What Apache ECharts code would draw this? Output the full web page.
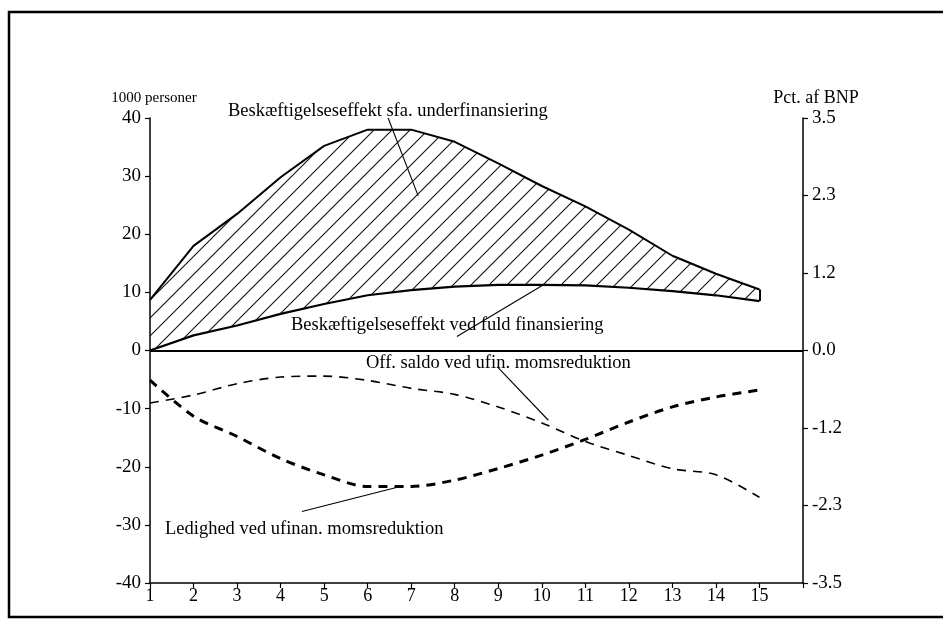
<!DOCTYPE html>
<html>
<head>
<meta charset="utf-8">
<script src="https://cdn.jsdelivr.net/npm/echarts@6/dist/echarts.min.js"></script>
<style>html,body{margin:0;padding:0;background:#fff}#c{width:943px;height:619px}</style>
</head>
<body>
<div id="c"></div>
<script>
// ---- data ----
const years = ['1','2','3','4','5','6','7','8','9','10','11','12','13','14','15'];
const xTickLabels = years.concat(['']); // axis runs one step past 15 to the right axis
// Beskæftigelseseffekt sfa. underfinansiering (1000 personer, top of hatched area)
const underfin = [8.7, 18.0, 23.5, 29.8, 35.2, 38.0, 38.0, 35.9, 32.2, 28.3, 24.8, 20.8, 16.3, 13.2, 10.5];
// Beskæftigelseseffekt ved fuld finansiering (1000 personer)
const fuldFin = [0.0, 2.6, 4.3, 6.3, 8.0, 9.5, 10.4, 11.0, 11.3, 11.3, 11.2, 10.8, 10.2, 9.5, 8.5];
// Ledighed ved ufinan. momsreduktion (1000 personer)
const ledighed = [-5.1, -11.3, -14.8, -18.6, -21.4, -23.4, -23.4, -22.3, -20.3, -18.0, -15.3, -12.3, -9.7, -8.0, -6.8];
// Off. saldo ved ufin. momsreduktion (Pct. af BNP)
const offSaldo = [-0.79, -0.67, -0.50, -0.40, -0.385, -0.45, -0.57, -0.66, -0.85, -1.09, -1.37, -1.58, -1.78, -1.87, -2.21];

const FONT = '"Liberation Serif", "DejaVu Serif", serif';

// hatch pattern
const pc = document.createElement('canvas');
pc.width = 18; pc.height = 18;
const g = pc.getContext('2d');
g.strokeStyle = '#111'; g.lineWidth = 1.1;
g.beginPath();
g.moveTo(-2, 20); g.lineTo(20, -2);
g.moveTo(-2, 2); g.lineTo(2, -2);
g.moveTo(16, 20); g.lineTo(20, 16);
g.stroke();

const diff = underfin.map((v, i) => +(v - fuldFin[i]).toFixed(3));

// annotation leader lines, in (year, value) coordinates on the hidden value x axis
const leader = (a, b) => [{coord: a}, {coord: b}];
const leadersLeft = [
  leader([6.47, 40.0], [7.16, 26.6]),
  leader([8.05, 2.4], [10.04, 11.3]),
  leader([4.49, -27.7], [6.75, -23.4]),
  leader([8.98, -2.8], [10.15, -12.0])
];

const chart = echarts.init(document.getElementById('c'), null, {renderer: 'canvas'});
chart.setOption({
  animation: false,
  backgroundColor: '#fff',
  textStyle: {fontFamily: FONT, color: '#000'},
  grid: {left: 150, right: 140, top: 118, bottom: 36, containLabel: false},
  xAxis: [
    {
      type: 'category', data: xTickLabels, boundaryGap: false,
      axisLine: {show: true, onZero: false, lineStyle: {color: '#000', width: 1.5}},
      axisTick: {show: true, inside: false, length: 5, interval: 0, lineStyle: {color: '#000', width: 1.2}},
      splitLine: {show: false},
      axisLabel: {color: '#000', fontFamily: FONT, fontSize: 18, margin: 4, interval: 0}
    },
    {
      type: 'value', min: 1, max: 16, show: false
    }
  ],
  yAxis: [
    {
      type: 'value', min: -40, max: 40, interval: 10, position: 'left',
      name: '1000 personer', nameLocation: 'end', nameGap: 12,
      nameTextStyle: {fontFamily: FONT, fontSize: 15, color: '#000', padding: [0, 0, 0, 8]},
      axisLine: {show: true, lineStyle: {color: '#000', width: 1.5}},
      axisTick: {show: true, inside: false, length: 5, lineStyle: {color: '#000', width: 1.2}},
      splitLine: {show: false},
      axisLabel: {color: '#000', fontFamily: FONT, fontSize: 19, margin: 9}
    },
    {
      type: 'value', min: -3.5, max: 3.5, interval: 3.5 / 3, position: 'right',
      name: 'Pct. af BNP', nameLocation: 'end', nameGap: 11,
      nameTextStyle: {fontFamily: FONT, fontSize: 18, color: '#000', padding: [0, 0, 0, 26]},
      axisLine: {show: true, lineStyle: {color: '#000', width: 1.5}},
      axisTick: {show: true, inside: false, length: 5, lineStyle: {color: '#000', width: 1.2}},
      splitLine: {show: false},
      axisLabel: {
        color: '#000', fontFamily: FONT, fontSize: 19, margin: 9,
        formatter: v => (Math.abs(v) < 1e-6 ? '0.0' : v.toFixed(1))
      }
    }
  ],
  series: [
    {
      name: 'Beskæftigelseseffekt ved fuld finansiering',
      type: 'line', stack: 'besk', xAxisIndex: 0, yAxisIndex: 0,
      data: fuldFin, symbol: 'none',
      lineStyle: {color: '#000', width: 2.2},
      markLine: {
        silent: true, symbol: 'none', label: {show: false},
        lineStyle: {color: '#000', width: 2, type: 'solid'},
        data: [
          {yAxis: 0},
          [{coord: ['15', fuldFin[14]]}, {coord: ['15', underfin[14]]}]
        ]
      }
    },
    {
      name: 'Beskæftigelseseffekt sfa. underfinansiering',
      type: 'line', stack: 'besk', xAxisIndex: 0, yAxisIndex: 0,
      data: diff, symbol: 'none',
      lineStyle: {color: '#000', width: 2},
      areaStyle: {color: {image: pc, repeat: 'repeat'}, opacity: 1}
    },
    {
      name: 'Ledighed ved ufinan. momsreduktion',
      type: 'line', xAxisIndex: 0, yAxisIndex: 0,
      data: ledighed, symbol: 'none', smooth: 0.3,
      lineStyle: {color: '#000', width: 3, type: [9, 7]}
    },
    {
      name: 'Off. saldo ved ufin. momsreduktion',
      type: 'line', xAxisIndex: 0, yAxisIndex: 1,
      data: offSaldo, symbol: 'none', smooth: 0.3,
      lineStyle: {color: '#000', width: 1.6, type: [9, 7]}
    },
    {
      name: 'leaders', type: 'line', xAxisIndex: 1, yAxisIndex: 0,
      data: [], symbol: 'none', silent: true,
      markLine: {
        silent: true, symbol: 'none', label: {show: false},
        lineStyle: {color: '#000', width: 1.1, type: 'solid'},
        data: leadersLeft
      }
    }
  ],
  graphic: [
    {type: 'rect', silent: true, shape: {x: 9, y: 12, width: 960, height: 605},
     style: {fill: null, stroke: '#000', lineWidth: 2.5}},
    {type: 'text', left: 228, top: 102, silent: true,
     style: {text: 'Beskæftigelseseffekt sfa. underfinansiering', font: '18.5px ' + FONT, fill: '#000'}},
    {type: 'text', left: 291, top: 316, silent: true,
     style: {text: 'Beskæftigelseseffekt ved fuld finansiering', font: '18.5px ' + FONT, fill: '#000'}},
    {type: 'text', left: 366, top: 354, silent: true,
     style: {text: 'Off. saldo ved ufin. momsreduktion', font: '18.5px ' + FONT, fill: '#000'}},
    {type: 'text', left: 165, top: 520, silent: true,
     style: {text: 'Ledighed ved ufinan. momsreduktion', font: '18.5px ' + FONT, fill: '#000'}}
  ]
});
</script>
</body>
</html>
